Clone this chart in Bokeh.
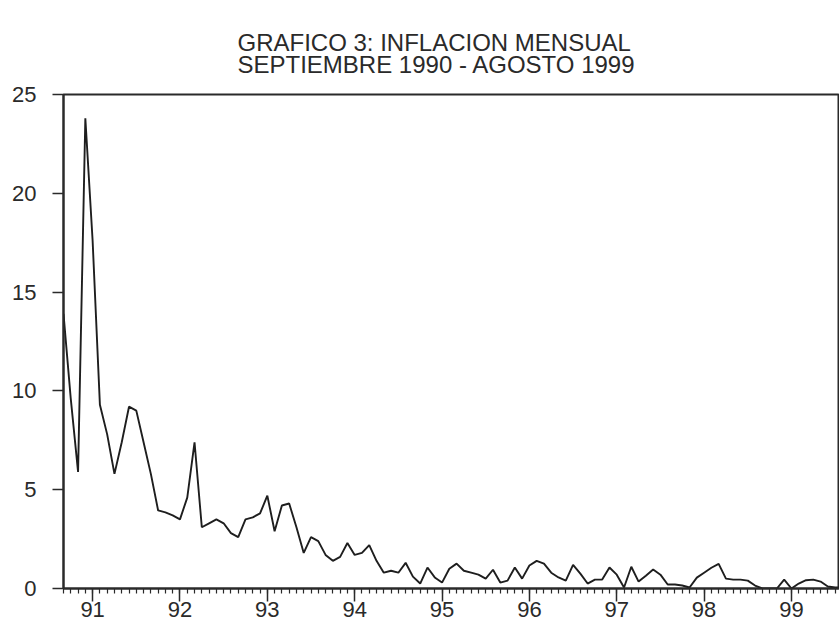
from bokeh.plotting import figure
from bokeh.models import FixedTicker, Title, Range1d
from bokeh.embed import file_html
from bokeh.resources import INLINE

# Monthly inflation (%), Sep 1990 - Aug 1999
infl_1990 = [13.9, 9.6, 5.9, 23.8]  # Sep-Dec
infl_1991 = [17.6, 9.3, 7.8, 5.8, 7.4, 9.2, 9.0, 7.4, 5.8, 3.95, 3.85, 3.7]
infl_1992 = [3.5, 4.6, 7.4, 3.1, 3.3, 3.5, 3.3, 2.8, 2.6, 3.5, 3.6, 3.8]
infl_1993 = [4.7, 2.9, 4.2, 4.3, 3.1, 1.8, 2.6, 2.4, 1.7, 1.4, 1.6, 2.3]
infl_1994 = [1.7, 1.8, 2.2, 1.4, 0.8, 0.9, 0.8, 1.3, 0.6, 0.25, 1.06, 0.56]
infl_1995 = [0.3, 1.0, 1.26, 0.9, 0.8, 0.7, 0.5, 0.95, 0.3, 0.4, 1.06, 0.5]
infl_1996 = [1.16, 1.4, 1.26, 0.8, 0.56, 0.4, 1.2, 0.75, 0.25, 0.45, 0.45, 1.06]
infl_1997 = [0.7, 0.05, 1.1, 0.35, 0.65, 0.96, 0.7, 0.2, 0.2, 0.15, 0.05, 0.55]
infl_1998 = [0.8, 1.05, 1.25, 0.5, 0.45, 0.45, 0.4, 0.15, 0.0, 0.0, 0.0, 0.45]
infl_1999 = [0.0, 0.25, 0.42, 0.45, 0.35, 0.1, 0.05, 0.05]  # Jan-Aug

start_year = 1990
start_month = 9
y_ticks = [0, 5, 10, 15, 20, 25]
x_tick_years = [1991, 1992, 1993, 1994, 1995, 1996, 1997, 1998, 1999]
x_tick_labels = ["91", "92", "93", "94", "95", "96", "97", "98", "99"]
title_text = "GRAFICO 3: INFLACION MENSUAL\nSEPTIEMBRE 1990 - AGOSTO 1999"

values = (infl_1990 + infl_1991 + infl_1992 + infl_1993 + infl_1994 +
          infl_1995 + infl_1996 + infl_1997 + infl_1998 + infl_1999)
xs = [start_year + (start_month - 1 + i) / 12.0 for i in range(len(values))]

FONT = "Liberation Sans"
INK = "#2a2a2a"

p = figure(width=839, height=627, output_backend="svg", toolbar_location=None,
           x_range=Range1d(xs[0], 1999.55), y_range=Range1d(0, 25),
           min_border_left=63, min_border_right=0, min_border_top=94,
           min_border_bottom=39)
p.title = None
p.background_fill_color = "white"
p.border_fill_color = "white"
p.outline_line_color = INK
p.outline_line_width = 2
p.xgrid.visible = False
p.ygrid.visible = False

p.line(xs, values, line_color="#1e1e1e", line_width=1.9)

# Y axis
ya = p.yaxis[0]
ya.ticker = FixedTicker(ticks=y_ticks)
ya.axis_line_color = INK
ya.axis_line_width = 2
ya.major_tick_line_color = INK
ya.major_tick_line_width = 1.5
ya.major_tick_out = 11
ya.major_tick_in = 0
ya.minor_tick_line_color = None
ya.major_label_standoff = 16
ya.major_label_text_font = FONT
ya.major_label_text_font_size = "22px"
ya.major_label_text_color = INK

# X axis
minor = [start_year + (start_month - 1 + i) / 12.0 for i in range(len(values))]
xa = p.xaxis[0]
xa.ticker = FixedTicker(ticks=x_tick_years, minor_ticks=minor)
xa.major_label_overrides = {y: l for y, l in zip(x_tick_years, x_tick_labels)}
xa.axis_line_color = INK
xa.axis_line_width = 2
xa.major_tick_line_color = INK
xa.major_tick_line_width = 1.5
xa.major_tick_out = 13
xa.major_tick_in = 0
xa.minor_tick_line_color = INK
xa.minor_tick_line_width = 1.2
xa.minor_tick_out = 5
xa.minor_tick_in = 0
xa.major_label_standoff = 0
xa.major_label_text_font = FONT
xa.major_label_text_font_size = "22px"
xa.major_label_text_color = INK

# Two-line title
t = Title(text=title_text, align="left", text_font=FONT, text_font_size="24px",
          text_font_style="normal", text_color=INK, text_line_height=0.85,
          standoff=32, offset=174)
p.add_layout(t, "above")

open("out.html", "w").write(file_html(p, INLINE))
